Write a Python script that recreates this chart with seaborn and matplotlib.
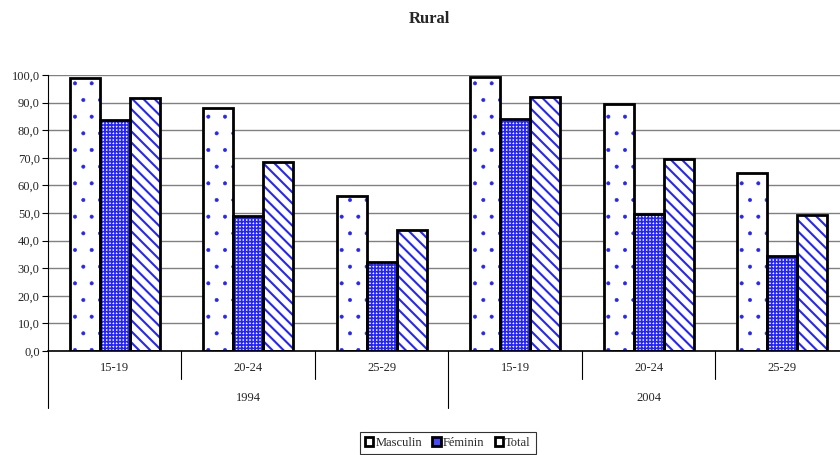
import seaborn as sns
import matplotlib.pyplot as plt
from matplotlib.patches import Patch, Rectangle
import pandas as pd

# values (%)
years = ['1994', '2004']
ages = ['15-19', '20-24', '25-29']
series = ['Masculin', 'Féminin', 'Total']

masculin = [99.0, 88.0, 56.2, 99.1, 89.5, 64.4]
feminin = [83.8, 48.9, 32.2, 84.1, 49.6, 34.5]
total = [91.6, 68.4, 43.8, 91.9, 69.4, 49.4]

sns.set_theme(style='white')
plt.rcParams['font.family'] = ['Liberation Serif', 'DejaVu Serif']
plt.rcParams['hatch.linewidth'] = 1.0

cats = [y + ' ' + a for y in years for a in ages]
df = pd.DataFrame({
    'cat': cats * 3,
    'serie': [s for s in series for _ in cats],
    'val': masculin + feminin + total,
})

fig = plt.figure(figsize=(8.4, 4.55), dpi=100)
ax = fig.add_axes([0.0571, 0.2286, 0.9536, 0.6066])

sns.barplot(data=df, x='cat', y='val', hue='serie', order=cats, hue_order=series,
            width=0.675, palette=['white'] * 3, saturation=1, linewidth=0,
            legend=False, ax=ax)

blue = '#2424ff'
styles = {
    'Masculin': dict(hatch='.', hlw=0.4),
    'Féminin': dict(hatch='+++++', hlw=1.2),
    'Total': dict(hatch='\\\\\\', hlw=1.5),
}
for cont, s in zip(ax.containers, series):
    for p in cont:
        p.set_facecolor('white')
        p.set_hatch(styles[s]['hatch'])
        if hasattr(p, 'set_hatch_linewidth'):
            p.set_hatch_linewidth(styles[s]['hlw'])
        p.set_edgecolor(blue)
        p.set_linewidth(0)
        ax.add_patch(Rectangle(p.get_xy(), p.get_width(), p.get_height(),
                               fill=False, ec='black', lw=2, zorder=3))

ax.set_xlim(-0.5, 5.5)
ax.set_ylim(0, 100)
ax.set_yticks(range(0, 101, 10))
ax.set_yticklabels([f'{v:.1f}'.replace('.', ',') for v in range(0, 101, 10)])
ax.yaxis.grid(True, color='#808080', lw=1)
ax.set_axisbelow(True)
ax.set_xticks(range(6))
ax.set_xticklabels(ages * 2)
ax.tick_params(axis='y', left=True, length=4, width=0.8, color='black', labelsize=9, pad=2)
ax.tick_params(axis='x', length=0, labelsize=9, pad=8)
ax.set_xlabel('')
ax.set_ylabel('')
for sp in ['top', 'right']:
    ax.spines[sp].set_visible(False)
ax.spines['left'].set_color('black')
ax.spines['left'].set_linewidth(0.8)
ax.spines['bottom'].set_color('black')
ax.spines['bottom'].set_linewidth(1.2)

# two-level category axis
trans = ax.get_xaxis_transform()
for x in [0.5, 1.5, 3.5, 4.5]:
    ax.plot([x, x], [0, -0.102], transform=trans, color='black', lw=0.8, clip_on=False)
for x in [-0.5, 2.5]:
    ax.plot([x, x], [0, -0.206], transform=trans, color='black', lw=0.8, clip_on=False)
for i, y in enumerate(years):
    ax.text(1 + 3 * i, -0.170, y, transform=trans, ha='center', va='center', fontsize=9)

fig.text(429 / 840, 1 - 23.3 / 455, 'Rural', ha='center', va='baseline',
         fontweight='bold', fontsize=12)

handles = [Patch(fc='white', ec='black', lw=2),
           Patch(fc='#4848ff', ec='black', lw=2),
           Patch(fc='white', ec='black', lw=2)]
leg = fig.legend(handles, series, loc='upper center', bbox_to_anchor=(448 / 840, 1 - 432 / 455),
                 ncol=3, frameon=True, fancybox=False, edgecolor='black', fontsize=9,
                 handlelength=0.65, handleheight=0.65, handletextpad=0.2,
                 columnspacing=0.8, borderpad=0.4, borderaxespad=0)
leg.get_frame().set_linewidth(0.8)

fig.savefig('out.png', dpi=100)
